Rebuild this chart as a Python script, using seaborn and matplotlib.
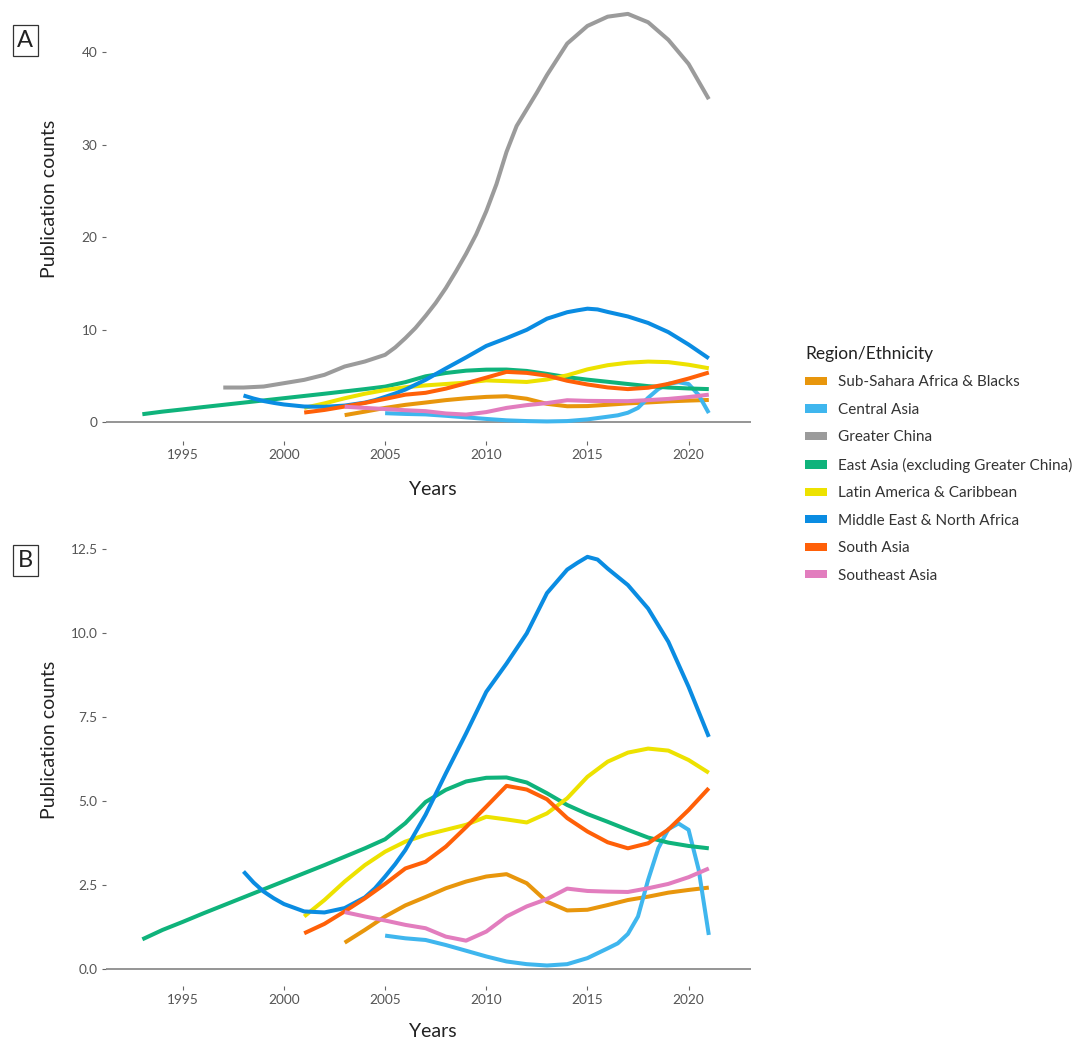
import numpy as np
import pandas as pd
import seaborn as sns
import matplotlib.pyplot as plt
from matplotlib.patches import Patch, Rectangle

regions = ["Sub-Sahara Africa & Blacks", "Central Asia", "Greater China",
           "East Asia (excluding Greater China)", "Latin America & Caribbean",
           "Middle East & North Africa", "South Asia", "Southeast Asia"]
colors = ["#E8960C", "#3FB6EE", "#9B9B9B", "#0FB37B",
          "#EDE200", "#0A8CE2", "#FF6008", "#E27DBE"]

# values (publication counts per year)
yrs_ssa = list(range(2003, 2022))
ssa = [0.79, 1.17, 1.57, 1.9, 2.15, 2.41, 2.61, 2.76, 2.83, 2.56, 2.01, 1.75,
       1.77, 1.91, 2.06, 2.16, 2.28, 2.36, 2.43]

yrs_central = list(range(2005, 2017)) + [2016.5, 2017, 2017.5, 2018, 2018.5,
                                         2019, 2019.5, 2020, 2020.5, 2021]
central = [1.0, 0.92, 0.87, 0.72, 0.55, 0.38, 0.23, 0.15, 0.11, 0.15, 0.33, 0.62,
           0.77, 1.05, 1.57, 2.66, 3.6, 4.17, 4.34, 4.15, 2.96, 1.02]

yrs_china = list(range(1997, 2005)) + [2005, 2005.5, 2006, 2006.5, 2007, 2007.5,
                                       2008, 2008.5, 2009, 2009.5, 2010, 2010.5,
                                       2011, 2011.5, 2012, 2012.5] + list(range(2013, 2022))
china = [3.77, 3.77, 3.88, 4.24, 4.6, 5.14, 6.04, 6.58,
         7.3, 8.1, 9.1, 10.2, 11.5, 12.9, 14.5, 16.3, 18.2, 20.3, 22.8, 25.7,
         29.2, 32.0, 33.8, 35.6,
         37.5, 40.9, 42.8, 43.8, 44.1, 43.2, 41.3, 38.7, 34.9]

yrs_east = list(range(1993, 2022))
east = [0.89, 1.17, 1.41, 1.66, 1.9, 2.14, 2.38, 2.62, 2.86, 3.1, 3.35, 3.6,
        3.87, 4.35, 4.98, 5.34, 5.59, 5.7, 5.71, 5.56, 5.24, 4.89, 4.62, 4.39,
        4.15, 3.92, 3.77, 3.67, 3.6]

yrs_latin = list(range(2001, 2022))
latin = [1.57, 2.06, 2.61, 3.1, 3.5, 3.8, 4.0, 4.15, 4.3, 4.54, 4.46, 4.37,
         4.64, 5.09, 5.73, 6.18, 6.45, 6.57, 6.51, 6.23, 5.85]

yrs_mena = [1998, 1998.5, 1999, 1999.5, 2000, 2001, 2002, 2003, 2004, 2004.5,
            2005, 2005.5] + list(range(2006, 2014)) + [2014, 2014.5, 2015, 2015.5] \
    + list(range(2016, 2022))
mena = [2.91, 2.58, 2.31, 2.11, 1.94, 1.72, 1.69, 1.82, 2.14, 2.41,
        2.76, 3.13, 3.55, 4.6, 5.83, 7.02, 8.26, 9.1, 10.0, 11.2,
        11.9, 12.1, 12.28, 12.2, 11.93, 11.44, 10.74, 9.75, 8.41, 6.92]

yrs_south = list(range(2001, 2022))
south = [1.07, 1.35, 1.72, 2.11, 2.54, 3.0, 3.2, 3.65, 4.23, 4.84, 5.46, 5.35,
         5.06, 4.5, 4.1, 3.78, 3.6, 3.75, 4.16, 4.74, 5.39]

yrs_se = list(range(2003, 2022))
southeast = [1.7, 1.57, 1.45, 1.32, 1.22, 0.97, 0.85, 1.12, 1.57, 1.87, 2.09,
             2.4, 2.33, 2.31, 2.3, 2.41, 2.54, 2.74, 3.0]

series = [(yrs_ssa, ssa), (yrs_central, central), (yrs_china, china),
          (yrs_east, east), (yrs_latin, latin), (yrs_mena, mena),
          (yrs_south, south), (yrs_se, southeast)]

frames = []
for name, (yrs, vals) in zip(regions, series):
    frames.append(pd.DataFrame({"Year": yrs, "Count": vals, "Region": name}))
df = pd.concat(frames, ignore_index=True)
df_b = df[df["Region"] != "Greater China"]

sns.set_theme(style="white")
plt.rcParams["font.family"] = ["Lato", "DejaVu Sans"]

pal = dict(zip(regions, colors))
fig = plt.figure(figsize=(10.81, 10.56), dpi=100)
ax_a = fig.add_axes([0.098, 0.5824, 0.597, 0.4176])
ax_b = fig.add_axes([0.098, 0.0663, 0.597, 0.4261])


def draw(ax, data, ylim, yticks, ylabels, xlab_y, ylab_y):
    sns.lineplot(data=data, x="Year", y="Count", hue="Region", hue_order=regions,
                 palette=pal, estimator=None, sort=True, linewidth=2.9,
                 legend=False, ax=ax, solid_capstyle="butt",
                 solid_joinstyle="round", zorder=3)
    ax.axhline(0, color="#8c8c8c", lw=1.3, zorder=1)
    ax.set_xlim(1991.2, 2023.1)
    ax.set_ylim(*ylim)
    for s in ax.spines.values():
        s.set_visible(False)
    ax.set_xticks([1995, 2000, 2005, 2010, 2015, 2020])
    ax.set_yticks(yticks)
    ax.set_yticklabels(ylabels)
    ax.tick_params(axis="both", length=3, width=0.8, color="#666666",
                   labelsize=9.8, labelcolor="#555555", pad=3, left=True, bottom=True)
    ax.set_xlabel("Years", fontsize=14, color="#222222")
    ax.set_ylabel("Publication counts", fontsize=14, color="#222222")
    ax.xaxis.set_label_coords(0.507, xlab_y)
    ax.yaxis.set_label_coords(-0.075, ylab_y)


draw(ax_a, df, (-2.0, 45.6), [0, 10, 20, 30, 40], ["0", "10", "20", "30", "40"],
     -0.09, 0.549)
draw(ax_b, df_b, (-0.5, 12.9), [0, 2.5, 5, 7.5, 10, 12.5],
     ["0.0", "2.5", "5.0", "7.5", "10.0", "12.5"], -0.082, 0.547)

# panel tags
for tag, top in [("A", 25), ("B", 545)]:
    fig.patches.append(Rectangle((12.7 / 1081, 1 - (top + 30.7) / 1056), 25 / 1081,
                                 30.7 / 1056, transform=fig.transFigure,
                                 fill=False, ec="#333333", lw=0.9))
    fig.text(25.2 / 1081, 1 - (top + 15.5) / 1056, tag, ha="center", va="center",
             fontsize=17, color="#222222")

handles = [Patch(facecolor=c, edgecolor="none") for c in colors]
leg = fig.legend(handles, regions, title="Region/Ethnicity", loc="upper left",
                 bbox_to_anchor=(805 / 1081, 1 - 346 / 1056), frameon=False,
                 fontsize=11, title_fontsize=12.5, handlelength=1.44,
                 handleheight=0.46, handletextpad=0.75, labelspacing=0.88,
                 borderpad=0, borderaxespad=0, alignment="left")
for t in leg.get_texts():
    t.set_color("#333333")
leg.get_title().set_color("#222222")

fig.savefig("out.png", dpi=100)
